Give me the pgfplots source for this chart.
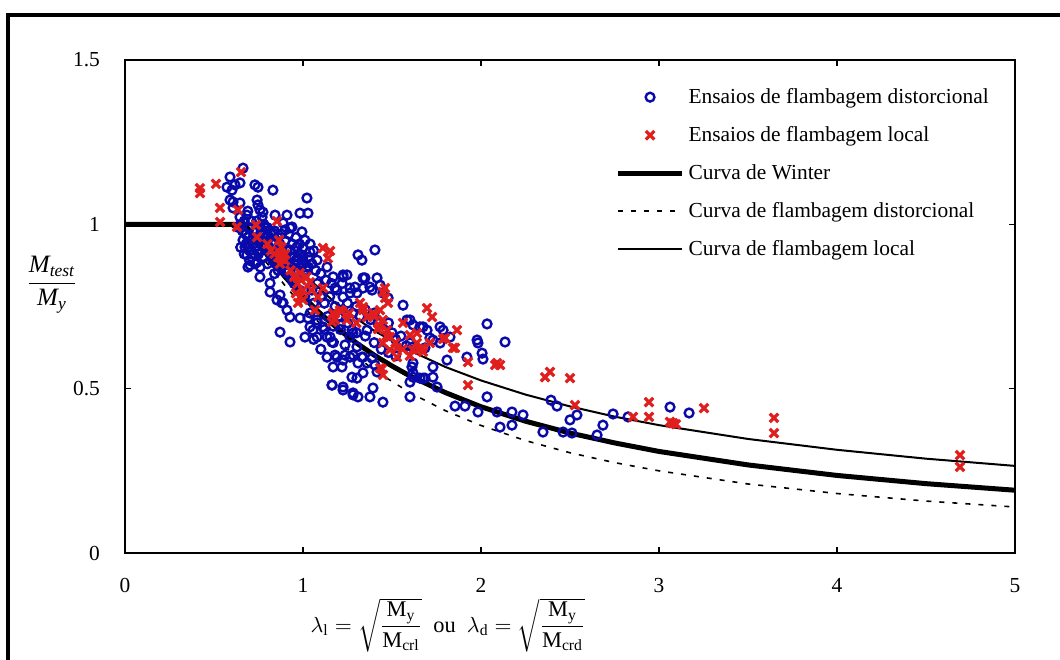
\documentclass[border=0pt]{standalone}
\usepackage{amsmath}
\usepackage{fontspec}
\setmainfont{Liberation Serif}
\usepackage{pgfplots}
\pgfplotsset{compat=1.18}
\usepackage{pgfplotstable}

\definecolor{ptblue}{RGB}{10,10,170}
\definecolor{ptred}{RGB}{225,30,30}

% ensaios de flambagem distorcional (lambda, Mtest/My)
\pgfplotstableread{
x y
0.663 1.171
0.590 1.144
0.573 1.113
0.601 1.104
0.618 1.120
0.646 1.126
0.730 1.120
0.747 1.113
0.831 1.104
1.022 1.080
0.590 1.074
0.607 1.068
0.607 1.050
0.646 1.065
0.742 1.074
0.747 1.059
0.758 1.044
0.775 1.037
0.843 1.028
0.910 1.028
0.983 1.034
1.028 1.034
0.646 1.022
0.685 1.028
0.770 1.022
0.787 0.992
0.888 1.004
0.927 0.989
0.994 0.977
1.011 0.952
0.663 0.952
0.674 0.931
0.685 0.907
0.702 0.876
0.742 0.885
0.775 0.901
0.758 0.840
0.888 0.882
0.910 0.852
0.955 0.861
0.927 0.922
0.966 0.931
1.000 0.901
1.039 0.916
1.079 0.891
1.135 0.870
1.169 0.840
0.803 0.967
0.831 0.974
0.899 0.983
0.938 0.992
0.691 0.870
0.815 0.821
0.815 0.794
0.854 0.770
0.888 0.761
0.910 0.739
0.927 0.718
0.871 0.672
0.927 0.642
1.011 0.657
1.056 0.678
1.079 0.657
1.112 0.688
1.135 0.657
1.163 0.642
1.135 0.596
1.191 0.596
1.225 0.587
1.264 0.596
1.169 0.566
1.219 0.566
1.275 0.535
1.303 0.532
1.163 0.511
1.225 0.496
1.281 0.481
1.309 0.475
1.376 0.475
1.449 0.459
1.393 0.502
1.337 0.548
1.404 0.572
1.416 0.551
1.281 0.669
1.360 0.678
1.404 0.922
1.309 0.907
1.331 0.891
1.247 0.846
1.337 0.837
1.416 0.837
1.337 0.806
1.376 0.809
1.264 0.791
1.303 0.791
1.225 0.779
1.562 0.754
1.584 0.709
1.618 0.694
1.674 0.688
1.618 0.627
1.685 0.624
1.730 0.648
1.618 0.578
1.618 0.535
1.674 0.532
1.730 0.535
1.601 0.475
1.753 0.505
1.787 0.678
1.826 0.657
1.809 0.587
1.730 0.566
1.225 0.840
1.180 0.806
1.264 0.806
1.292 0.809
1.433 0.815
1.449 0.791
1.478 0.776
1.601 0.709
1.657 0.688
1.697 0.678
1.770 0.688
1.713 0.654
1.770 0.639
1.601 0.639
2.034 0.697
1.978 0.648
1.983 0.639
2.135 0.642
2.006 0.608
2.011 0.590
1.921 0.596
1.208 0.694
1.275 0.678
1.264 0.657
1.152 0.657
1.236 0.633
1.236 0.602
1.281 0.602
1.331 0.596
1.309 0.578
1.360 0.578
1.388 0.593
1.281 0.487
1.612 0.566
1.618 0.548
1.601 0.520
1.657 0.532
1.685 0.532
2.034 0.475
1.854 0.447
1.910 0.447
1.983 0.429
2.090 0.429
2.174 0.429
2.236 0.420
2.107 0.383
2.174 0.389
2.348 0.368
2.393 0.465
2.427 0.447
2.500 0.405
2.539 0.420
2.461 0.368
2.511 0.365
2.652 0.359
2.685 0.389
2.742 0.423
2.826 0.414
3.062 0.444
3.169 0.426
0.65 1.00
0.66 0.98
0.68 0.97
0.70 0.99
0.72 0.96
0.74 0.95
0.76 0.97
0.78 0.93
0.80 0.95
0.82 0.92
0.84 0.94
0.70 0.93
0.72 0.91
0.75 0.92
0.78 0.90
0.80 0.88
0.83 0.89
0.86 0.90
0.88 0.92
0.90 0.90
0.92 0.88
0.94 0.87
0.96 0.89
0.98 0.91
1.00 0.88
0.97 0.86
0.99 0.84
1.02 0.86
0.93 0.84
0.95 0.82
0.90 0.86
0.86 0.86
0.84 0.85
0.68 0.94
0.71 1.01
0.73 0.98
0.69 1.04
0.78 1.00
0.82 0.97
0.86 0.96
0.90 0.95
0.94 0.94
0.96 0.96
1.00 0.93
1.03 0.90
0.98 0.80
1.01 0.78
1.05 0.80
1.08 0.82
1.10 0.78
1.12 0.76
1.15 0.78
1.18 0.75
1.20 0.72
1.22 0.74
1.25 0.76
1.28 0.73
1.30 0.75
1.32 0.72
1.35 0.74
1.38 0.71
1.40 0.73
1.42 0.70
1.45 0.68
1.48 0.70
1.50 0.67
1.52 0.65
1.55 0.66
1.58 0.63
1.14 0.72
1.17 0.69
1.21 0.68
1.25 0.70
1.30 0.67
1.35 0.66
1.40 0.64
1.44 0.62
1.48 0.61
1.52 0.60
1.06 0.76
1.04 0.73
1.08 0.70
1.12 0.68
1.17 0.64
1.10 0.62
1.06 0.65
0.871 0.785
0.882 0.761
0.983 0.715
1.028 0.715
1.079 0.709
1.039 0.688
1.180 0.602
1.163 0.511
1.225 0.505
1.303 0.627
1.337 0.596
1.225 0.846
1.348 0.837
1.388 0.800
0.65 0.93
0.70 0.92
0.75 0.91
0.91 0.92
0.95 0.90
1.00 0.89
1.02 0.87
0.64 0.99
0.67 1.01
0.69 0.96
0.71 0.95
0.73 0.93
0.75 0.95
0.77 0.94
0.79 0.96
0.81 0.93
0.83 0.91
0.85 0.92
0.87 0.94
0.89 0.91
0.91 0.89
0.93 0.90
0.95 0.88
0.97 0.90
0.99 0.87
1.01 0.85
1.03 0.87
0.96 0.85
0.94 0.83
0.92 0.86
0.88 0.87
0.85 0.88
0.74 1.01
0.76 0.99
0.80 0.99
0.84 0.98
0.88 0.97
0.92 0.97
0.98 0.94
1.04 0.94
1.06 0.92
1.05 0.88
1.07 0.86
1.10 0.85
1.13 0.83
1.16 0.82
1.19 0.80
1.22 0.82
0.67 0.91
0.70 0.89
0.73 0.88
0.76 0.87
}\distortional

% ensaios de flambagem local
\pgfplotstableread{
x y
0.421 1.110
0.421 1.095
0.511 1.123
0.534 1.050
0.534 1.007
0.652 1.159
0.635 1.044
0.629 0.992
0.736 0.998
0.742 0.961
0.854 1.010
0.865 0.952
0.871 0.913
0.882 0.894
0.899 0.909
0.983 0.852
1.039 0.824
1.112 0.928
1.140 0.897
1.112 0.806
1.084 0.779
0.983 0.779
0.972 0.761
1.067 0.739
1.169 0.730
1.208 0.739
1.163 0.703
1.247 0.709
1.337 0.748
1.360 0.718
1.449 0.794
1.461 0.776
1.433 0.739
1.449 0.709
1.472 0.678
1.489 0.657
1.449 0.639
1.528 0.624
1.433 0.563
1.449 0.542
1.640 0.669
1.669 0.624
1.697 0.745
1.725 0.718
1.787 0.651
1.618 0.618
1.152 0.919
1.180 0.710
1.219 0.736
1.320 0.761
1.337 0.739
1.393 0.730
1.461 0.806
1.478 0.761
1.421 0.681
1.489 0.618
1.528 0.596
1.562 0.700
1.601 0.663
1.640 0.639
1.674 0.612
1.713 0.639
1.798 0.654
1.865 0.678
1.854 0.624
1.927 0.581
2.079 0.572
2.090 0.578
2.107 0.572
2.360 0.535
2.388 0.551
2.500 0.532
2.528 0.450
1.927 0.511
2.854 0.414
2.944 0.459
2.944 0.414
3.079 0.395
3.062 0.399
3.095 0.392
3.253 0.441
3.646 0.411
3.646 0.365
4.691 0.298
4.691 0.262
1.444 0.560
1.843 0.624
0.80 0.94
0.82 0.92
0.86 0.90
0.88 0.93
0.90 0.89
0.95 0.84
0.97 0.82
1.00 0.80
1.02 0.84
0.96 0.79
1.00 0.77
1.05 0.80
0.84 0.91
0.87 0.88
0.93 0.86
0.99 0.83
1.40 0.72
1.43 0.69
1.47 0.66
1.52 0.64
1.56 0.62
1.60 0.60
1.65 0.62
1.30 0.70
1.26 0.73
}\local

\begin{document}
\begin{tikzpicture}
\useasboundingbox (-62.5pt,-53pt) rectangle (467.5pt,276.5pt);
% moldura externa
\draw[line width=2pt] (-58.5pt,-120pt) -- (-58.5pt,269pt) -- (600pt,269pt);
\begin{axis}[
  at={(0,0)}, anchor=south west,
  scale only axis,
  width=445pt, height=246.5pt,
  xmin=0, xmax=5, ymin=0, ymax=1.5,
  xtick={0,1,2,3,4,5},
  ytick={0,0.5,1,1.5},
  tick align=inside,
  major tick length=3pt,
  axis line style={line width=1pt},
  tick style={line width=0.8pt, black},
  font=\fontsize{10.7}{12}\selectfont,
  /pgf/number format/assume math mode=true,
  xticklabel style={yshift=-9pt},
  yticklabel style={xshift=-9pt},
  xlabel={$\lambda_{\text{l}} = \sqrt{\dfrac{\text{M}_{\text{y}}}{\text{M}_{\text{crl}}}}$\ \ ou\ \ $\lambda_{\text{d}} = \sqrt{\dfrac{\text{M}_{\text{y}}}{\text{M}_{\text{crd}}}}$},
  xlabel style={at={(axis description cs:0.363,-0.146)}, anchor=center, font=\fontsize{11.2}{12}\selectfont},
  ylabel={\fontsize{12.5}{14}\selectfont$\dfrac{\textit{M}_{\textit{test}}}{\textit{M}_{\textit{y}}}$},
  ylabel style={rotate=-90, at={(axis description cs:-0.082,0.544)}, anchor=center},
  legend cell align=left,
  legend style={draw=none, fill=none, at={(axis cs:2.72,1.44)}, anchor=north west,
    row sep=6pt, font=\fontsize{10.7}{12}\selectfont},
]
\addlegendimage{mark=o, mark size=2.2pt, ptblue, line width=1.2pt,
  legend image code/.code={\path[draw=none] (0pt,0pt) -- (32pt,0pt); \draw plot[only marks] coordinates {(16pt,0pt)};}}
\addlegendentry{Ensaios de flambagem distorcional}
\addlegendimage{mark=x, mark size=3pt, ptred, line width=1.6pt,
  legend image code/.code={\path[draw=none] (0pt,0pt) -- (32pt,0pt); \draw plot[only marks] coordinates {(16pt,0pt)};}}
\addlegendentry{Ensaios de flambagem local}
\addlegendimage{black, line width=2.5pt, legend image code/.code={\draw (0pt,0pt) -- (32pt,0pt);}}
\addlegendentry{Curva de Winter}
\addlegendimage{black, line width=0.8pt, dash pattern=on 2.5pt off 4pt, legend image code/.code={\draw (0pt,0pt) -- (32pt,0pt);}}
\addlegendentry{Curva de flambagem distorcional}
\addlegendimage{black, line width=1pt, legend image code/.code={\draw (0pt,0pt) -- (32pt,0pt);}}
\addlegendentry{Curva de flambagem local}

% curva de flambagem distorcional
\addplot[forget plot, black, line width=0.8pt, dash pattern=on 2.5pt off 4pt] coordinates {
(0,1) (0.561,1) (0.6,0.994) (0.7,0.946) (0.8,0.880) (0.9,0.813) (1.0,0.750)
(1.2,0.642) (1.4,0.556) (1.6,0.488) (1.8,0.433) (2.0,0.388) (2.25,0.342)
(2.5,0.305) (2.75,0.275) (3.0,0.250) (3.5,0.210) (4.0,0.181) (4.5,0.158) (5.0,0.140)};
% curva de flambagem local
\addplot[forget plot, black, line width=1pt] coordinates {
(0,1) (0.776,1) (0.8,0.981) (0.9,0.910) (1.0,0.850) (1.2,0.752) (1.4,0.676)
(1.6,0.616) (1.8,0.566) (2.0,0.525) (2.25,0.482) (2.5,0.446) (2.75,0.415)
(3.0,0.389) (3.5,0.347) (4.0,0.314) (4.5,0.287) (5.0,0.265)};
% curva de Winter
\addplot[forget plot, black, line width=2.5pt] coordinates {
(0,1) (0.673,1) (0.7,0.980) (0.8,0.906) (0.9,0.840) (1.0,0.780) (1.1,0.727)
(1.2,0.681) (1.3,0.639) (1.4,0.602) (1.5,0.569) (1.6,0.539) (1.8,0.488)
(2.0,0.445) (2.25,0.401) (2.5,0.365) (2.75,0.335) (3.0,0.309) (3.5,0.268)
(4.0,0.236) (4.5,0.211) (5.0,0.191)};

\addplot[forget plot, only marks, mark=o, mark size=2.2pt, ptblue, line width=1.2pt] table {\distortional};
\addplot[forget plot, only marks, mark=x, mark size=3pt, ptred, line width=1.6pt] table {\local};
\end{axis}
\end{tikzpicture}
\end{document}
